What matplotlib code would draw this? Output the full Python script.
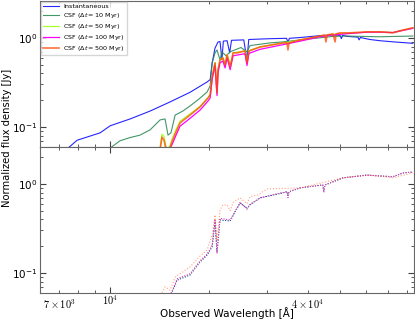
import numpy as np
import matplotlib.pyplot as plt
from matplotlib.ticker import NullFormatter

# top panel: spectra (observed wavelength in Angstrom, normalized flux in Jy)
blue_wave = [7450, 7940, 8690, 9330, 10000, 11500, 13240, 15210, 17500, 19720, 20150,
             20430, 20850, 21290, 21590, 21880, 22100, 22690, 23100, 23400, 25500, 26080,
             26400, 30640, 34400, 34750, 35100, 37830, 43460, 47620, 50030, 50500, 51000,
             52510, 56700, 57200, 57700, 61680, 66170, 73480, 83310]
blue_flux = [0.058, 0.071, 0.079, 0.086, 0.103, 0.123, 0.151, 0.191, 0.245, 0.32, 0.34,
             0.52, 0.77, 0.90, 0.91, 0.57, 0.92, 0.93, 0.68, 0.94, 0.95, 0.56,
             0.96, 0.98, 0.99, 0.90, 0.99, 1.01, 1.06, 1.08, 1.07, 0.98, 1.07,
             1.04, 1.02, 0.95, 1.01, 0.96, 0.93, 0.90, 0.87]

green_wave = [10000, 10720, 11500, 12330, 13240, 14190, 14690, 15000, 15310, 15770, 16600,
              17500, 18600, 19720, 20150, 20430, 20850, 21140, 21590, 21880, 22540, 23180,
              23660, 25000, 26080, 26650, 30640, 33560, 37830, 42000, 47620, 52510, 58000,
              66170, 74000, 83310]
green_flux = [0.058, 0.070, 0.076, 0.081, 0.093, 0.120, 0.123, 0.081, 0.086, 0.136, 0.150,
              0.172, 0.205, 0.247, 0.289, 0.524, 0.678, 0.733, 0.566, 0.696, 0.628, 0.700,
              0.720, 0.780, 0.700, 0.820, 0.879, 0.902, 0.950, 0.990, 1.040, 1.050, 1.040,
              1.030, 1.040, 1.050]

yel_wave = [14190, 14380, 14590, 14800, 15000, 15210, 15420, 15870, 16320, 17500, 18780,
            19860, 20150, 20430, 20850, 21140, 21290, 21590, 22030, 22370, 22690, 23180,
            23660, 25720, 26080, 26430, 28590, 33560, 37830, 43460, 47620, 53610, 60400,
            66170, 72440, 83310]
yel_flux = [0.060, 0.083, 0.078, 0.060, 0.057, 0.062, 0.073, 0.094, 0.116, 0.140, 0.171,
            0.214, 0.232, 0.37, 0.53, 0.25, 0.44, 0.57, 0.60, 0.50, 0.65, 0.48,
            0.68, 0.715, 0.53, 0.715, 0.79, 0.875, 0.945, 1.04, 1.10, 1.13, 1.16,
            1.17, 1.15, 1.29]

mag_wave = [14400, 14800, 15000, 15420, 15870, 16320, 17500, 18780, 19860, 20150, 20430,
            20850, 21140, 21290, 21590, 22030, 22370, 22690, 23180, 23660, 25720, 26080,
            26430, 28590, 33560, 37830, 43460, 47620, 53610, 60400, 66170, 72440, 83310]
mag_flux = [0.058, 0.054, 0.054, 0.063, 0.081, 0.102, 0.125, 0.155, 0.196, 0.212, 0.34,
            0.49, 0.225, 0.405, 0.525, 0.55, 0.46, 0.60, 0.44, 0.63, 0.665, 0.49,
            0.67, 0.745, 0.84, 0.92, 1.03, 1.08, 1.12, 1.16, 1.16, 1.15, 1.28]

red_wave = [14190, 14380, 14590, 14800, 15000, 15210, 15420, 15870, 16320, 17500, 18780,
            19860, 20150, 20430, 20850, 21140, 21290, 21590, 22030, 22370, 22690, 23180,
            23660, 24320, 25720, 26080, 26430, 28590, 33560, 34510, 34750, 35000, 37830,
            40550, 43460, 44980, 45330, 45720, 47620, 48340, 48670, 50030, 53610, 60400,
            66170, 72440, 76000, 83310]
red_flux = [0.055, 0.077, 0.071, 0.055, 0.054, 0.058, 0.068, 0.088, 0.111, 0.136, 0.168,
            0.212, 0.229, 0.365, 0.524, 0.241, 0.437, 0.566, 0.596, 0.497, 0.644, 0.472,
            0.678, 0.678, 0.714, 0.524, 0.714, 0.792, 0.879, 0.879, 0.733, 0.879, 0.95,
            1.0, 1.05, 1.08, 0.902, 1.08, 1.11, 0.902, 1.11, 1.14, 1.14, 1.17,
            1.17, 1.14, 1.20, 1.30]

# bottom panel
bot_wave = [15210, 15520, 15990, 17500, 18780, 19720, 20430, 20850, 21140, 21590, 23180,
            24850, 26080, 26650, 28590, 34510, 34750, 35000, 37830, 44340, 44670, 45000,
            51100, 60400, 72440, 77840, 83310]
bot_flux = [0.055, 0.064, 0.083, 0.095, 0.133, 0.159, 0.196, 0.374, 0.172, 0.394, 0.384,
            0.612, 0.537, 0.581, 0.696, 0.813, 0.733, 0.813, 0.902, 0.975, 0.834, 0.975,
            1.17, 1.26, 1.20, 1.33, 1.36]
bot_flux2 = [0.056, 0.066, 0.086, 0.098, 0.137, 0.163, 0.205, 0.40, 0.165, 0.41, 0.395,
             0.62, 0.52, 0.59, 0.70, 0.82, 0.70, 0.82, 0.905, 0.97, 0.80, 0.97,
             1.17, 1.25, 1.21, 1.33, 1.36]
sal_wave = [14380, 14690, 15210, 15770, 17500, 18780, 19720, 20430, 20850, 21140, 21590,
            22030, 22690, 23180, 23660, 24850, 26080, 26650, 28200, 30000, 37830, 45000,
            51100, 60400, 66170, 72440, 83310]
sal_flux = [0.060, 0.070, 0.064, 0.090, 0.117, 0.155, 0.181, 0.267, 0.449, 0.235, 0.510,
            0.581, 0.581, 0.50, 0.62, 0.696, 0.60, 0.72, 0.752, 0.879, 0.902, 1.05,
            1.17, 1.26, 1.22, 1.17, 1.33]

labels = ['Instantaneous', r'CSF ($\Delta t = 10$ Myr)', r'CSF ($\Delta t = 50$ Myr)',
          r'CSF ($\Delta t = 100$ Myr)', r'CSF ($\Delta t = 500$ Myr)']

fig, (ax1, ax2) = plt.subplots(2, 1, sharex=True, figsize=(4.15, 3.2), dpi=100)
fig.subplots_adjust(left=0.0964, right=0.9976, top=0.997, bottom=0.0844, hspace=0)

ax1.plot(blue_wave, blue_flux, color='blue', lw=0.8, alpha=0.85, label=labels[0])
ax1.plot(green_wave, green_flux, color='seagreen', lw=0.8, alpha=0.9, label=labels[1])
ax1.plot(yel_wave, yel_flux, color='greenyellow', lw=0.9, label=labels[2])
ax1.plot(mag_wave, mag_flux, color='magenta', lw=0.9, label=labels[3])
ax1.plot(red_wave, red_flux, color='orangered', lw=1.2, alpha=0.75, label=labels[4])

ax2.plot(bot_wave, bot_flux, color='seagreen', lw=0.7, ls=':')
ax2.plot(bot_wave, bot_flux, color='blue', lw=0.7, ls=':', alpha=0.6)
ax2.plot(bot_wave, bot_flux2, color='greenyellow', lw=0.7, ls=':')
ax2.plot(bot_wave, bot_flux2, color='magenta', lw=0.7, ls=':')
ax2.plot(sal_wave, sal_flux, color='orangered', lw=0.8, ls=':', alpha=0.5)

for ax in (ax1, ax2):
    ax.set_xscale('log')
    ax.set_yscale('log')
    ax.set_ylim(0.0596, 2.6)
    ax.set_xlim(6120, 84000)
    ax.tick_params(which='both', direction='in', top=True, right=True, labelsize=7.5,
                   color='0.25')
    ax.tick_params(which='major', length=4)
    ax.tick_params(which='minor', length=2)
    ax.tick_params(axis='y', pad=2)
    ax.tick_params(axis='x', pad=0.5)
    ax.yaxis.set_minor_formatter(NullFormatter())
    for s in ax.spines.values():
        s.set_color('0.4')

ax2.set_xticks([1e4], labels=[r'$10^{4}$'])
minor_x = [7000, 8000, 9000, 20000, 30000, 40000, 50000, 60000, 70000, 80000]
minor_lab = [r'$7\times10^{3}$', '', '', '', '', r'$4\times10^{4}$', '', '', '', '']
ax2.set_xticks(minor_x, labels=minor_lab, minor=True)
for t in ax2.get_xticklabels() + ax2.get_xticklabels(minor=True):
    t.set_math_fontfamily('cm')
    t.set_fontsize(7.5)

ax1.legend(loc='upper left', fontsize=4.6, borderaxespad=0.1, handlelength=2.6,
           labelspacing=0.3, borderpad=0.35, handletextpad=0.6, fancybox=True,
           framealpha=0.8)

fig.text(0.547, 0.004, 'Observed Wavelength [Å]', ha='center', va='bottom', fontsize=7.5)
fig.text(0.017, 0.569, 'Normalized flux density [Jy]', rotation=90, va='center',
         ha='center', fontsize=7.2)

fig.savefig('out.png', dpi=100)
